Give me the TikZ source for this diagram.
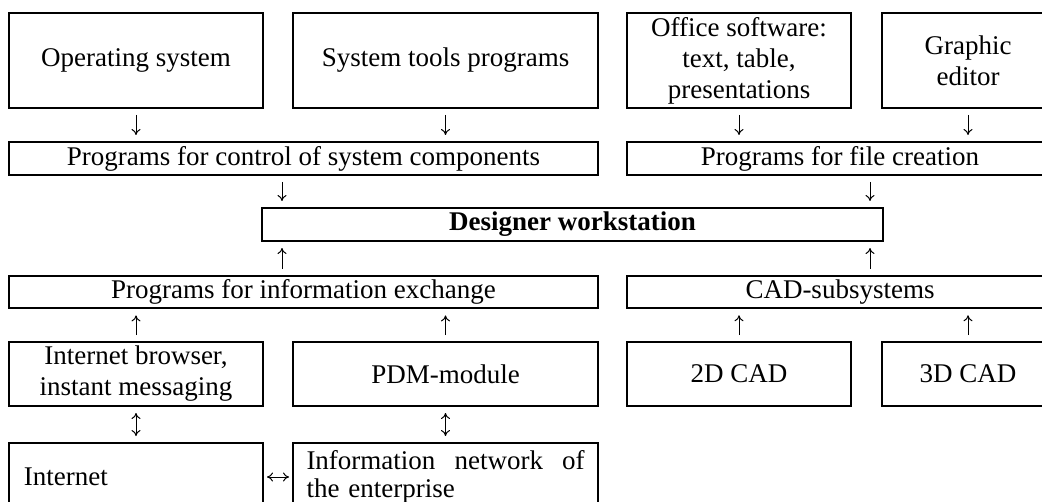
\documentclass[tikz,border=0pt]{standalone}
\usepackage{fontspec}
\setmainfont{Liberation Serif}
\usetikzlibrary{arrows.meta}

\begin{document}
\begin{tikzpicture}[x=0.5pt,y=-0.5pt,
  box/.style={draw, line width=1pt, align=center, inner sep=2pt,
    font=\fontsize{13.5}{15.5}\selectfont},
  arr/.style={-{To[length=3pt,width=4.5pt]}, line width=0.5pt,
    shorten >=3pt, shorten <=3pt},
  twoway/.style={arr, {To[length=3pt,width=4.5pt]}-{To[length=3pt,width=4.5pt]}}]

  % Fix the page size and paint the background
  \path[use as bounding box, fill=white] (0,0) rectangle (1042,502);

  % Columns used by the arrows round the workstation
  \coordinate (lx) at (282,0);
  \coordinate (rx) at (870,0);

  % Draw the top row of boxes
  \node[box, minimum width=127pt, minimum height=47.5pt] (os) at (136,60.5) {Operating system};
  \node[box, minimum width=152.5pt, minimum height=47.5pt] (tools) at (445.5,60.5) {System tools programs};
  \node[box, minimum width=112pt, minimum height=47.5pt] (office) at (739,60.5) {Office software:\\text, table,\\presentations};
  \node[box, minimum width=86pt, minimum height=47.5pt] (graphic) at (968,60.5) {Graphic\\editor};

  % Draw the second row
  \node[box, minimum width=294.5pt, minimum height=16.5pt] (control) at (303.5,158.5) {Programs for control of system components};
  \node[box, minimum width=213pt, minimum height=16.5pt] (filecreate) at (840,158.5) {Programs for file creation};

  % Draw the workstation in the middle
  \node[box, minimum width=310.5pt, minimum height=16.5pt, font=\fontsize{13.5}{15.5}\selectfont\bfseries] (designer) at (572.5,224.5) {Designer workstation};

  % Draw the fourth row
  \node[box, minimum width=294.5pt, minimum height=16pt] (exchange) at (303.5,292) {Programs for information exchange};
  \node[box, minimum width=213pt, minimum height=16pt] (cadsub) at (840,292) {CAD-subsystems};

  % Draw the fifth row
  \node[box, minimum width=127pt, minimum height=32pt] (browser) at (136,374) {Internet browser,\\instant messaging};
  \node[box, minimum width=152.5pt, minimum height=32pt] (pdm) at (445.5,374) {PDM-module};
  \node[box, minimum width=112pt, minimum height=32pt] (cad2d) at (739,374) {2D CAD};
  \node[box, minimum width=86pt, minimum height=32pt] (cad3d) at (968,374) {3D CAD};

  % Draw the bottom row (it runs off the lower edge)
  \node[box, anchor=north, minimum height=34pt, text width=112pt, inner xsep=7.5pt, align=left] (internet) at (136,442) {Internet};
  \node[box, anchor=north, minimum height=34pt, text width=139pt, inner xsep=6.75pt, inner ysep=3pt, align=left,
    font=\fontsize{13.5}{14}\selectfont] (network) at (445.5,442)
    {\hbox to 139pt{Information\hfill network\hfill of}\\the enterprise};

  % Arrows down to the second row
  \draw[arr] (os) -- (os |- control.north);
  \draw[arr] (tools) -- (tools |- control.north);
  \draw[arr] (office) -- (office |- filecreate.north);
  \draw[arr] (graphic) -- (graphic |- filecreate.north);

  % Arrows into the workstation
  \draw[arr] (control.south -| lx) -- (designer.north -| lx);
  \draw[arr] (filecreate.south -| rx) -- (designer.north -| rx);
  \draw[arr] (exchange.north -| lx) -- (designer.south -| lx);
  \draw[arr] (cadsub.north -| rx) -- (designer.south -| rx);

  % Arrows up to the fourth row
  \draw[arr] (browser) -- (browser |- exchange.south);
  \draw[arr] (pdm) -- (pdm |- exchange.south);
  \draw[arr] (cad2d) -- (cad2d |- cadsub.south);
  \draw[arr] (cad3d) -- (cad3d |- cadsub.south);

  % Two-way links at the bottom
  \draw[twoway] (browser) -- (internet);
  \draw[twoway] (pdm) -- (network);
  \draw[twoway, shorten >=1.5pt, shorten <=1.5pt] (internet.east) -- (internet.east -| network.west);
\end{tikzpicture}
\end{document}
